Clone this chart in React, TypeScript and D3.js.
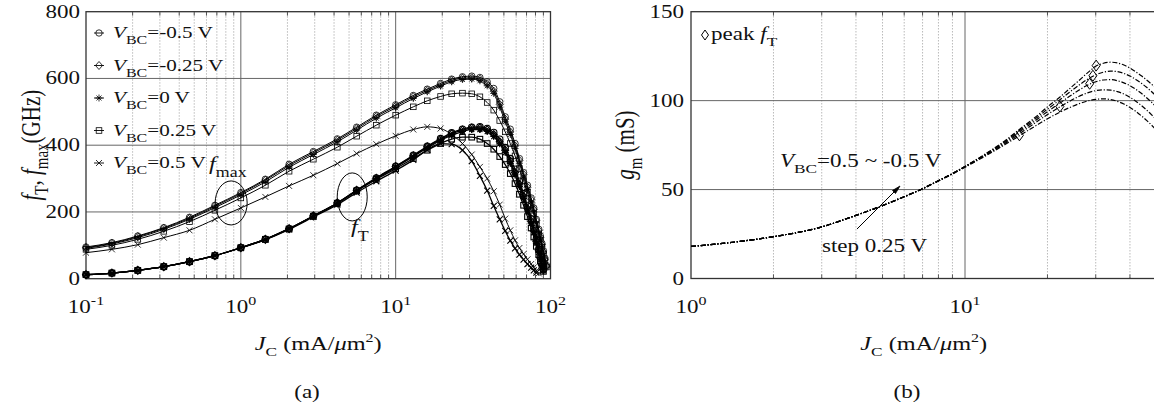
import React from "react";
import * as d3 from "d3";

// ---------- data: panel (a) ----------
const J_A = [0.1, 0.147, 0.216, 0.318, 0.466, 0.68, 1.0, 1.44, 2.05, 2.94, 4.2, 5.6, 7.5, 10, 13, 16, 19.5, 23, 27, 31, 35, 39, 43, 47, 51, 55, 59, 63, 67, 71, 75, 78, 81, 84, 86, 88, 90, 92, 94];

const VBC_LABELS = ["-0.5 V", "-0.25 V", "0 V", "0.25 V", "0.5 V"];
const MARKERS = ["circle", "diamond", "asterisk", "square", "cross"];

const FT_M050 = [12, 17, 25, 36, 51, 69, 93, 118, 150, 188, 227, 265, 302, 337, 370, 397, 420, 437, 448, 454, 455, 450, 438, 418, 393, 360, 328, 292, 255, 218, 180, 150, 118, 88, 66, 45, 28];
const FT_M025 = [12, 17, 25, 36, 51, 69, 93, 118, 150, 188, 227, 265, 301, 336, 368, 395, 417, 434, 445, 451, 451, 446, 432, 410, 385, 352, 318, 283, 247, 210, 172, 143, 112, 84, 62, 42, 26];
const FT_0 = [12, 17, 25, 36, 51, 69, 93, 118, 150, 188, 227, 264, 300, 334, 366, 392, 414, 430, 441, 447, 447, 441, 426, 404, 378, 345, 311, 276, 240, 203, 166, 137, 107, 79, 58, 40, 24];
const FT_025 = [12, 17, 25, 36, 51, 69, 93, 118, 149, 187, 226, 263, 298, 330, 360, 385, 405, 418, 424, 424, 418, 405, 388, 366, 342, 315, 285, 253, 220, 186, 152, 125, 97, 72, 53, 36, 22];
const FT_050 = [12, 17, 25, 36, 51, 69, 92, 117, 148, 185, 222, 258, 292, 324, 356, 386, 405, 403, 385, 352, 308, 264, 218, 178, 143, 114, 91, 72, 57, 44, 33, 25, 18];

const FMAX_M050 = [95, 108, 128, 153, 184, 220, 258, 298, 343, 381, 419, 454, 490, 521, 549, 568, 585, 598, 605, 607, 603, 590, 570, 530, 485, 448, 405, 360, 318, 280, 242, 212, 178, 148, 128, 106, 84, 62, 40];
const FMAX_M025 = [93, 106, 126, 151, 181, 217, 255, 295, 339, 377, 415, 450, 486, 517, 545, 564, 581, 594, 601, 602, 598, 584, 562, 522, 478, 440, 398, 354, 312, 274, 237, 207, 174, 144, 124, 102, 80, 58, 37];
const FMAX_0 = [91, 104, 123, 148, 178, 213, 251, 290, 334, 372, 410, 445, 481, 512, 540, 560, 577, 590, 597, 598, 593, 578, 555, 514, 470, 432, 390, 346, 305, 267, 230, 200, 167, 138, 118, 97, 76, 55, 35];
const FMAX_025 = [88, 100, 118, 142, 171, 205, 242, 280, 322, 358, 394, 427, 460, 490, 515, 533, 546, 554, 556, 554, 545, 528, 505, 474, 440, 405, 368, 330, 294, 258, 222, 194, 162, 134, 115, 94, 74, 54, 35];
const FMAX_050 = [78, 88, 102, 123, 145, 178, 212, 245, 278, 310, 345, 375, 403, 428, 447, 455, 450, 432, 405, 372, 335, 300, 262, 222, 180, 145, 115, 92, 74, 58, 44, 34, 24, 16];

const FT_SERIES = [FT_M050, FT_M025, FT_0, FT_025, FT_050];
const FMAX_SERIES = [FMAX_M050, FMAX_M025, FMAX_0, FMAX_025, FMAX_050];

const Y_TICKS_A = [0, 200, 400, 600, 800];
const X_TICKS_A = [0.1, 1, 10, 100];
const X_EXP_A = ["-1", "0", "1", "2"];

// ---------- data: panel (b) ----------
const J_B = [1, 1.5, 2, 3, 4, 5, 6, 7, 8, 9, 10, 12, 14, 16, 18, 20, 22, 24, 26, 28, 30, 32, 34, 36, 38, 40, 42, 44, 46, 48, 50];
const GM_M050 = [18, 20.8, 23.5, 29, 35.5, 41, 46, 50.5, 55, 59, 63, 70.5, 77.5, 84.5, 90.5, 96.5, 101.5, 106.5, 111.2, 115.6, 119.3, 121, 121.6, 121.2, 120, 118.3, 116.2, 114, 111.6, 109.2, 106.8];
const GM_M025 = [18, 20.8, 23.5, 29, 35.5, 41, 46, 50.5, 55, 59, 63, 70.3, 77, 83.8, 89.6, 95.2, 100, 104.6, 108.6, 112, 114.5, 116, 116.6, 116.3, 115.3, 113.8, 111.9, 109.8, 107.5, 105, 102.5];
const GM_0 = [18, 20.8, 23.5, 29, 35.5, 41, 46, 50.5, 55, 59, 63, 70, 76.5, 83, 88.6, 93.8, 98.2, 102.3, 105.8, 108.7, 110.6, 111.6, 111.8, 111.2, 110, 108.4, 106.4, 104.1, 101.6, 99, 96.3];
const GM_025 = [18, 20.8, 23.5, 29, 35.5, 41, 46, 50.5, 54.9, 58.9, 62.8, 69.7, 75.9, 82, 87.4, 92.2, 96.1, 99.5, 102.3, 104.4, 105.6, 106.1, 105.9, 105.1, 103.7, 101.9, 99.7, 97.3, 94.7, 92, 89.2];
const GM_050 = [18, 20.8, 23.5, 29, 35.5, 41, 46, 50.4, 54.8, 58.7, 62.5, 69.3, 75.3, 80.8, 85.6, 89.8, 93.2, 96, 98.2, 99.8, 100.7, 101, 100.6, 99.6, 98.1, 96.2, 94, 91.5, 88.9, 86.2, 83.4];
const GM_SERIES = [GM_M050, GM_M025, GM_0, GM_025, GM_050];
const PEAK_J = [30.1, 29.3, 28.5, 22.2, 15.8];
const PEAK_G = [119.7, 114, 109.5, 96.7, 80.5];

const Y_TICKS_B = [0, 50, 100, 150];
const X_TICKS_B = [1, 10];
const X_EXP_B = ["0", "1"];

// ---------- styling ----------
const FONT = "'Liberation Serif', 'Times New Roman', serif";
const SX = 1.28;
const GRID_MAJOR = "#666";
const GRID_MINOR = "#a8a8a8";
const BORDER = "#333";

function minorValues(lo: number, hi: number) {
  const out: number[] = [];
  for (let e = Math.floor(Math.log10(lo)); e <= Math.ceil(Math.log10(hi)); e++) {
    for (let m = 2; m <= 9; m++) {
      const v = m * Math.pow(10, e);
      if (v > lo * 1.0001 && v < hi * 0.9999) out.push(v);
    }
  }
  return out;
}

function Marker({ type, x, y, w = 0.8 }: { type: string; x: number; y: number; w?: number }) {
  const common = { fill: "none", stroke: "#000", strokeWidth: w };
  if (type === "circle") return <circle cx={x} cy={y} r={3.2} {...common} />;
  if (type === "diamond") return <path d={`M${x},${y - 4}L${x + 3.5},${y}L${x},${y + 4}L${x - 3.5},${y}Z`} {...common} />;
  if (type === "square") return <rect x={x - 2.8} y={y - 2.8} width={5.6} height={5.6} {...common} />;
  if (type === "cross") return <path d={`M${x - 3},${y - 3}L${x + 3},${y + 3}M${x - 3},${y + 3}L${x + 3},${y - 3}`} {...common} />;
  return (
    <path
      d={`M${x - 3.5},${y}H${x + 3.5}M${x},${y - 3.5}V${y + 3.5}M${x - 2.5},${y - 2.5}L${x + 2.5},${y + 2.5}M${x - 2.5},${y + 2.5}L${x + 2.5},${y - 2.5}`}
      {...common}
    />
  );
}

function ST({ x, y, anchor = "start", size = 18, rotate = 0, children }: any) {
  return (
    <g transform={`translate(${x},${y}) scale(${SX},1)${rotate ? ` rotate(${rotate})` : ""}`}>
      <text x={0} y={0} textAnchor={anchor} fontSize={size} fontFamily={FONT} fill="#111">
        {children}
      </text>
    </g>
  );
}

function PanelA() {
  const x = d3.scaleLog().domain([0.1, 100]).range([86, 550.5]);
  const y = d3.scaleLinear().domain([0, 800]).range([278.7, 11.7]);
  const [x0, x1] = x.range();
  const [y0, y1] = y.range();
  const minors = minorValues(0.1, 100);
  const line = d3
    .line<[number, number]>()
    .x((d) => x(d[0]))
    .y((d) => y(d[1]))
    .curve(d3.curveMonotoneX);

  const seriesAll = [
    ...FMAX_SERIES.map((s, i) => ({ s, i, w: 1, mw: 0.8 })),
    ...FT_SERIES.map((s, i) => ({ s, i, w: 1.3, mw: 1.1 })),
  ];

  return (
    <g>
      {minors.map((v) => (
        <line key={"m" + v} x1={x(v)} x2={x(v)} y1={y0} y2={y1} stroke={GRID_MINOR} strokeWidth={0.8} strokeDasharray="1.5,1.5" />
      ))}
      {minors.map((v) => (
        <g key={"mt" + v}>
          <line x1={x(v)} x2={x(v)} y1={y0} y2={y0 - 4} stroke={BORDER} strokeWidth={0.8} />
          <line x1={x(v)} x2={x(v)} y1={y1} y2={y1 + 4} stroke={BORDER} strokeWidth={0.8} />
        </g>
      ))}
      {X_TICKS_A.slice(1, -1).map((v) => (
        <line key={"M" + v} x1={x(v)} x2={x(v)} y1={y0} y2={y1} stroke={GRID_MAJOR} strokeWidth={1} />
      ))}
      {Y_TICKS_A.slice(1, -1).map((v) => (
        <line key={"H" + v} x1={x0} x2={x1} y1={y(v)} y2={y(v)} stroke={GRID_MAJOR} strokeWidth={1} />
      ))}
      <rect x={x0} y={y1} width={x1 - x0} height={y0 - y1} fill="none" stroke={BORDER} strokeWidth={1.3} />

      {seriesAll.map(({ s, i, w, mw }, k) => {
        const pts = s.map((v, j) => [J_A[j], v] as [number, number]);
        return (
          <g key={"s" + k}>
            <path d={line(pts) || ""} fill="none" stroke="#000" strokeWidth={w} />
            {pts.map((p, j) => (
              <Marker key={j} type={MARKERS[i]} x={x(p[0])} y={y(p[1])} w={mw} />
            ))}
          </g>
        );
      })}

      {/* y tick labels */}
      {Y_TICKS_A.map((v) => (
        <ST key={"yl" + v} x={x0 - 6} y={y(v) + 6} anchor="end" size={18}>
          {v}
        </ST>
      ))}
      {/* x tick labels */}
      {X_TICKS_A.map((v, i) => (
        <ST key={"xl" + v} x={x(v)} y={313} anchor="middle" size={18}>
          <tspan>10</tspan>
          <tspan fontSize={12.5} dy={-8}>
            {X_EXP_A[i]}
          </tspan>
        </ST>
      ))}
      {/* x title */}
      <ST x={(x0 + x1) / 2} y={350} anchor="middle" size={19}>
        <tspan fontStyle="italic">J</tspan>
        <tspan fontSize={13.5} dy={6}>C</tspan>
        <tspan dy={-6}> (mA/</tspan>
        <tspan fontStyle="italic">μ</tspan>
        <tspan>m</tspan>
        <tspan fontSize={12.5} dy={-8}>2</tspan>
        <tspan dy={8}>)</tspan>
      </ST>
      {/* y title */}
      <ST x={40} y={(y0 + y1) / 2} anchor="middle" size={21} rotate={-90}>
        <tspan fontStyle="italic">f</tspan>
        <tspan fontSize={15} dy={6}>T</tspan>
        <tspan dy={-6}>, </tspan>
        <tspan fontStyle="italic">f</tspan>
        <tspan fontSize={15} dy={6}>max</tspan>
        <tspan dy={-6}>(GHz)</tspan>
      </ST>
      {/* caption */}
      <ST x={307} y={398} anchor="middle" size={18}>
        (a)
      </ST>

      {/* legend */}
      {VBC_LABELS.map((lab, i) => {
        const ly = 33 + i * 32.5;
        return (
          <g key={"lg" + i}>
            <line x1={94} x2={104} y1={ly} y2={ly} stroke="#000" strokeWidth={0.9} />
            <Marker type={MARKERS[i]} x={99} y={ly} />
            <ST x={113} y={ly + 5} size={16.5}>
              <tspan fontStyle="italic">V</tspan>
              <tspan fontSize={12.5} dy={6}>BC</tspan>
              <tspan dy={-6}>={lab}</tspan>
            </ST>
          </g>
        );
      })}

      {/* annotations */}
      <ellipse cx={x(0.866)} cy={y(227)} rx={16} ry={22} fill="none" stroke="#000" strokeWidth={1} />
      <ellipse cx={x(5.24)} cy={y(245)} rx={15} ry={24} fill="none" stroke="#000" strokeWidth={1} />
      <ST x={209} y={170} size={19}>
        <tspan fontStyle="italic">f</tspan>
        <tspan fontSize={14} dy={7}>max</tspan>
      </ST>
      <ST x={351} y={233} size={19}>
        <tspan fontStyle="italic">f</tspan>
        <tspan fontSize={14} dy={8}>T</tspan>
      </ST>
    </g>
  );
}

function PanelB() {
  const x = d3.scaleLog().domain([1, 50]).range([691, 691 + 274 * Math.log10(50)]);
  const y = d3.scaleLinear().domain([0, 150]).range([278.5, 11.7]);
  const [x0, x1] = x.range();
  const [y0, y1] = y.range();
  const minors = minorValues(1, 50);
  const line = d3
    .line<[number, number]>()
    .x((d) => x(d[0]))
    .y((d) => y(d[1]))
    .curve(d3.curveMonotoneX);

  return (
    <g>
      {minors.map((v) => (
        <line key={"m" + v} x1={x(v)} x2={x(v)} y1={y0} y2={y1} stroke={GRID_MINOR} strokeWidth={0.8} strokeDasharray="1.5,1.5" />
      ))}
      {minors.map((v) => (
        <g key={"mt" + v}>
          <line x1={x(v)} x2={x(v)} y1={y0} y2={y0 - 4} stroke={BORDER} strokeWidth={0.8} />
          <line x1={x(v)} x2={x(v)} y1={y1} y2={y1 + 4} stroke={BORDER} strokeWidth={0.8} />
        </g>
      ))}
      {X_TICKS_B.slice(1).map((v) => (
        <line key={"M" + v} x1={x(v)} x2={x(v)} y1={y0} y2={y1} stroke={GRID_MAJOR} strokeWidth={1} />
      ))}
      {Y_TICKS_B.slice(1, -1).map((v) => (
        <line key={"H" + v} x1={x0} x2={x1} y1={y(v)} y2={y(v)} stroke={GRID_MAJOR} strokeWidth={1} />
      ))}
      <rect x={x0} y={y1} width={x1 - x0} height={y0 - y1} fill="none" stroke={BORDER} strokeWidth={1.3} />

      {GM_SERIES.map((s, i) => {
        const pts = s.map((v, j) => [J_B[j], v] as [number, number]);
        return <path key={"g" + i} d={line(pts) || ""} fill="none" stroke="#000" strokeWidth={1.2} strokeDasharray="5,1.8,1.2,1.8" />;
      })}
      {PEAK_J.map((j, i) => {
        const cx = x(j);
        const cy = y(PEAK_G[i]);
        return <path key={"p" + i} d={`M${cx},${cy - 5.5}L${cx + 4},${cy}L${cx},${cy + 5.5}L${cx - 4},${cy}Z`} fill="none" stroke="#000" strokeWidth={1} />;
      })}

      {Y_TICKS_B.map((v) => (
        <ST key={"yl" + v} x={x0 - 7} y={y(v) + 6} anchor="end" size={18}>
          {v}
        </ST>
      ))}
      {X_TICKS_B.map((v, i) => (
        <ST key={"xl" + v} x={x(v)} y={313} anchor="middle" size={18}>
          <tspan>10</tspan>
          <tspan fontSize={12.5} dy={-8}>
            {X_EXP_B[i]}
          </tspan>
        </ST>
      ))}
      <ST x={(x0 + x1) / 2} y={350} anchor="middle" size={19}>
        <tspan fontStyle="italic">J</tspan>
        <tspan fontSize={13.5} dy={6}>C</tspan>
        <tspan dy={-6}> (mA/</tspan>
        <tspan fontStyle="italic">μ</tspan>
        <tspan>m</tspan>
        <tspan fontSize={12.5} dy={-8}>2</tspan>
        <tspan dy={8}>)</tspan>
      </ST>
      <ST x={634} y={(y0 + y1) / 2} anchor="middle" size={21} rotate={-90}>
        <tspan fontStyle="italic">g</tspan>
        <tspan fontSize={15} dy={6}>m</tspan>
        <tspan dy={-6}> (mS)</tspan>
      </ST>
      <ST x={907} y={398} anchor="middle" size={18}>
        (b)
      </ST>

      {/* legend: peak fT */}
      <path d="M705,30L708.5,35L705,40L701.5,35Z" fill="none" stroke="#000" strokeWidth={1} />
      <ST x={711} y={40} size={18}>
        <tspan>peak </tspan>
        <tspan fontStyle="italic">f</tspan>
        <tspan fontSize={13.5} dy={6}>T</tspan>
      </ST>

      {/* annotations */}
      <ST x={780} y={167} size={18}>
        <tspan fontStyle="italic">V</tspan>
        <tspan fontSize={13.5} dy={6}>BC</tspan>
        <tspan dy={-6}>=0.5 ~ -0.5 V</tspan>
      </ST>
      <ST x={822} y={252} size={18}>
        step 0.25 V
      </ST>
      <line x1={857} y1={229} x2={897} y2={189} stroke="#000" strokeWidth={1} />
      <path d="M900,186L892.5,190.5L895.5,193.5Z" fill="#000" stroke="#000" strokeWidth={0.8} />
    </g>
  );
}

export default function App() {
  return (
    <svg
      width={1154}
      height={410}
      viewBox="0 0 1154 410"
      style={{ position: "absolute", left: 0, top: 0, background: "#fff" }}
    >
      <rect x={0} y={0} width={1154} height={410} fill="#fff" />
      <PanelA />
      <PanelB />
    </svg>
  );
}
